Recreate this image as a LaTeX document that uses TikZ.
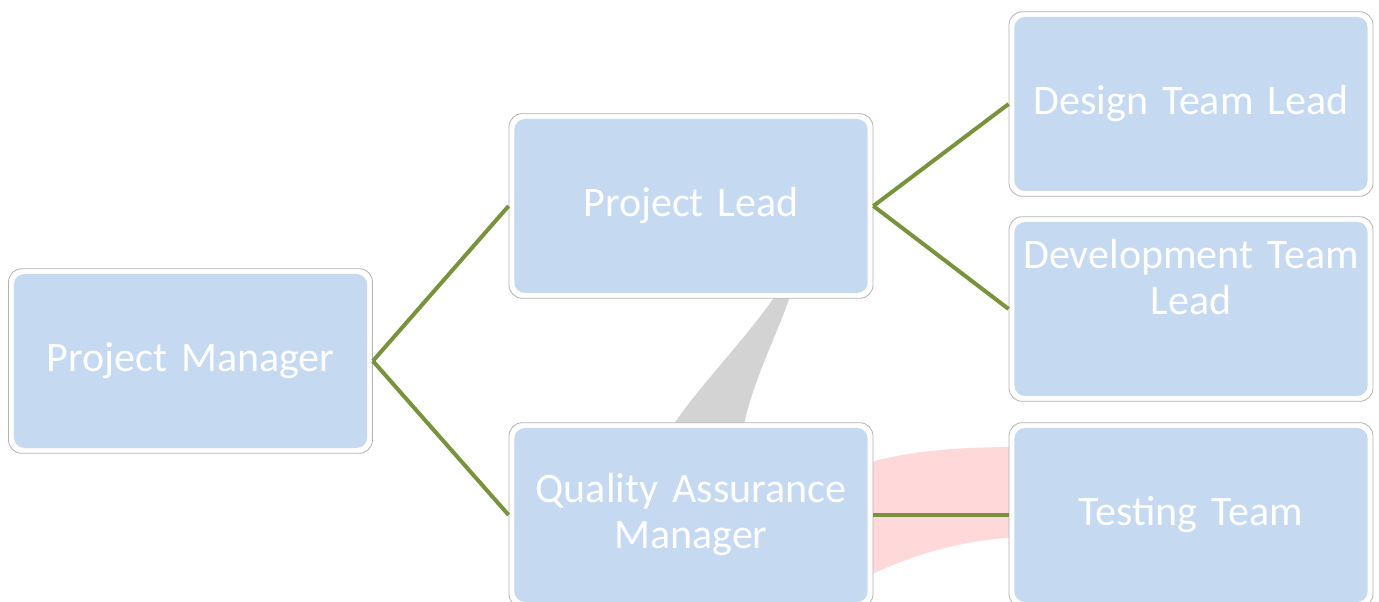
\documentclass[tikz,border=0pt]{standalone}
\usepackage{fontspec}
\setmainfont[WordSpace=0.75]{Carlito}
\definecolor{boxblue}{RGB}{197,217,241}
\definecolor{linkgreen}{RGB}{119,147,60}
\definecolor{wedgegray}{RGB}{211,211,211}
\definecolor{bandpink}{RGB}{255,216,218}
\tikzset{
  box/.style={rectangle, rounded corners=10pt, draw=gray!60, line width=0.6pt, fill=white,
    minimum width=273pt, minimum height=138.5pt, text width=266pt, align=center, inner sep=0pt,
    text=white, font=\fontsize{31.5}{34.5}\selectfont,
    path picture={\fill[boxblue, rounded corners=8pt]
      ([shift={(4pt,4pt)}]path picture bounding box.south west) rectangle
      ([shift={(-4pt,-4pt)}]path picture bounding box.north east);}},
  link/.style={draw=linkgreen, line width=3pt}
}

\begin{document}
\begin{tikzpicture}[x=0.75pt,y=-0.75pt]
    \useasboundingbox (0,0) rectangle (1379,602);

    %Shape: gray wedge between the two middle boxes
    \fill[wedgegray] (670,430) .. controls (695,390) and (750,335) .. (779,290) -- (792,290) .. controls (780,330) and (752,380) .. (743,430) -- cycle;
    %Shape: pink band
    \fill[bandpink] (860,465) .. controls (910,450) and (960,447) .. (1020,447) -- (1020,537) .. controls (960,540) and (910,555) .. (860,580) -- cycle;

    % Boxes
    \node (pm) [box] at (190.5,361) {Project Manager};
    \node (lead) [box] at (691,206) {Project Lead};
    \node (qa) [box] at (691,515) {Quality Assurance\\Manager};
    \node (design) [box] at (1191,104) {Design Team Lead};
    \node (dev) [box, text depth=82pt] at (1191,309) {Development Team\\Lead};
    \node (test) [box] at (1191,515) {Testing Team};

    % Links
    \draw[link] (pm.east) -- (lead.west);
    \draw[link] (pm.east) -- (qa.west);
    \draw[link] (lead.east) -- (design.west);
    \draw[link] (lead.east) -- (dev.west);
    \draw[link] (qa.east) -- (test.west);

\end{tikzpicture}
\end{document}
